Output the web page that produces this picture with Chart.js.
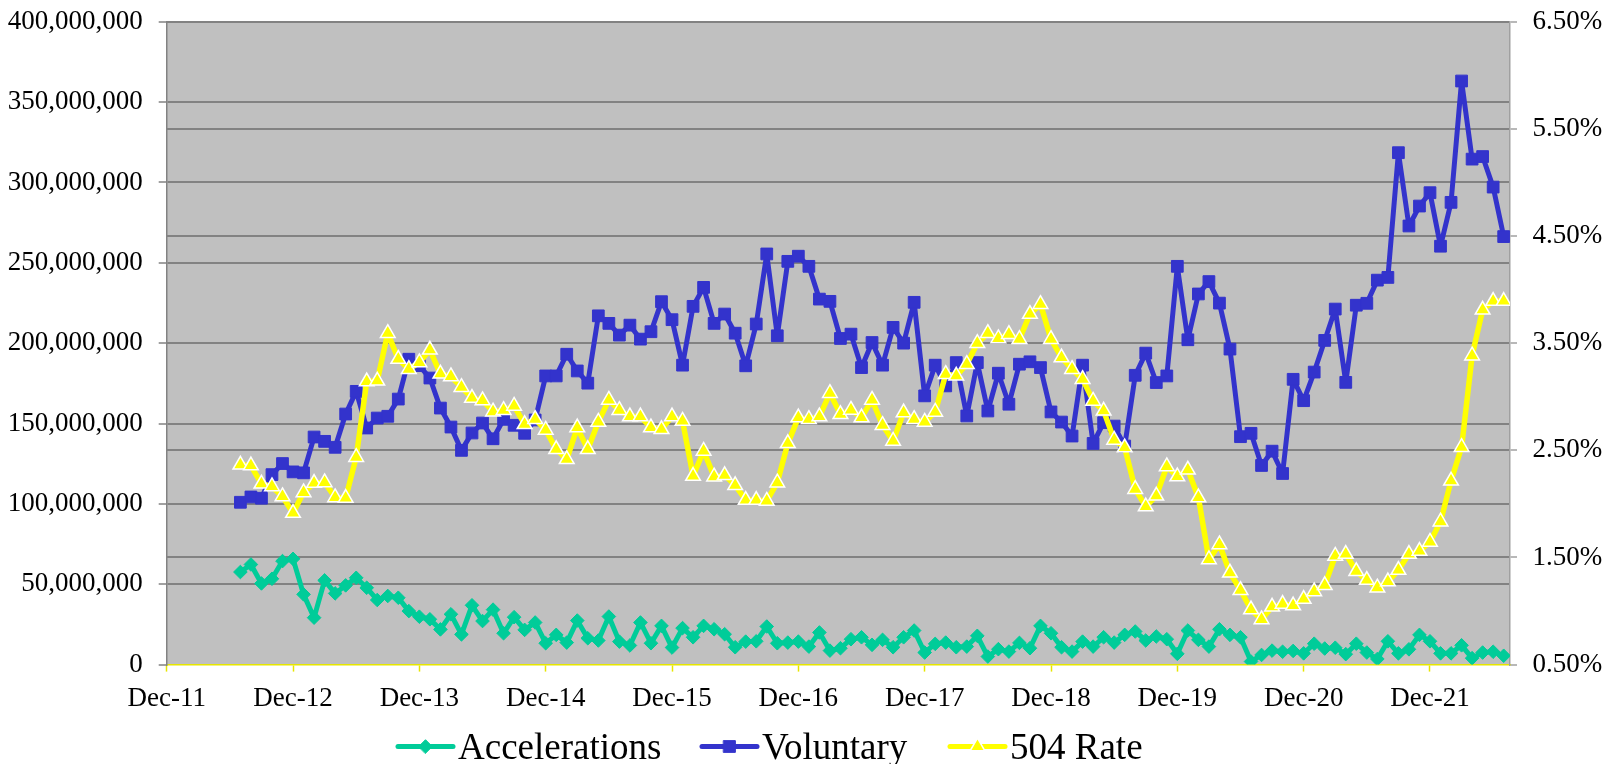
<!DOCTYPE html>
<html>
<head>
<meta charset="utf-8">
<script src="https://cdn.jsdelivr.net/npm/chart.js@4/dist/chart.umd.min.js"></script>
<style>
  html, body { margin: 0; padding: 0; background: #ffffff; }
  canvas { display: block; }
</style>
</head>
<body>
<canvas id="chart" width="1602" height="764"></canvas>
<script>
// ---- Data (monthly, Jul-12 .. Jul-22); x = months after Dec-11 ----
const firstMonthIndex = 7;            // Jul-12 is 7 months after Dec-11
const tickMonths = [0, 12, 24, 36, 48, 60, 72, 84, 96, 108, 120];
const tickLabels = ['Dec-11', 'Dec-12', 'Dec-13', 'Dec-14', 'Dec-15', 'Dec-16', 'Dec-17', 'Dec-18', 'Dec-19', 'Dec-20', 'Dec-21'];
const seriesNames = ['Accelerations', 'Voluntary', '504 Rate'];

// Accelerations, millions
const accelerations = [
  57.6, 62.3, 50.5, 53.4, 64.4, 65.8, 43.7, 29.2, 52.4, 44.3, 49.3, 54.0, 47.8, 40.2, 42.7, 41.6, 33.3, 29.8, 28.2, 21.9, 31.3, 18.8, 36.9, 27.1, 34.2,
  19.5, 29.5, 21.6, 26.2, 13.3, 18.5, 13.7, 27.4, 16.4, 15.0, 29.9, 14.3, 11.9, 26.2, 13.3, 24.1, 10.6, 22.7, 17.0, 24.1, 22.0, 18.9, 10.8, 14.3, 14.5,
  23.7, 13.3, 13.7, 14.3, 11.2, 20.0, 8.7, 10.2, 15.8, 17.0, 12.3, 15.4, 10.8, 17.0, 21.2, 7.5, 12.9, 13.7, 10.8, 11.2, 17.9, 5.0, 9.6, 8.1, 13.5,
  10.2, 24.1, 19.5, 10.8, 8.1, 14.3, 11.2, 17.0, 13.7, 18.5, 20.6, 15.0, 17.5, 15.8, 6.7, 21.2, 15.4, 11.2, 22.0, 18.5, 17.0, 1.9, 6.0, 8.7, 8.0,
  8.5, 7.0, 13.0, 10.0, 10.5, 6.5, 13.0, 7.5, 3.5, 14.5, 7.0, 9.5, 18.5, 14.5, 7.0, 7.0, 12.0, 4.0, 7.5, 8.0, 5.5
];

// Voluntary, millions
const voluntary = [
  101.0, 104.3, 103.5, 118.2, 125.1, 119.9, 119.3, 141.6, 138.9, 135.2, 155.9, 170.0, 147.2, 153.4, 154.5, 165.2, 190.0, 186.0, 178.3, 159.6, 147.8, 133.3, 144.1, 150.3, 140.5,
  152.6, 148.9, 143.9, 152.2, 179.6, 179.6, 193.1, 182.7, 175.1, 217.0, 212.3, 205.0, 211.2, 202.5, 207.1, 225.8, 214.6, 186.3, 222.9, 234.7, 212.3, 218.1, 206.2, 185.9, 211.9,
  255.5, 204.6, 250.9, 254.1, 247.8, 227.4, 226.0, 202.9, 205.6, 184.8, 200.4, 186.3, 209.8, 200.0, 225.4, 167.2, 186.3, 173.4, 187.9, 154.7, 187.9, 157.8, 181.3, 162.0, 186.9,
  188.4, 184.8, 157.2, 150.9, 142.2, 186.3, 137.6, 150.5, 148.4, 136.0, 180.0, 193.8, 175.5, 179.6, 247.8, 202.1, 230.6, 238.3, 224.9, 196.3, 141.8, 143.9, 123.9, 132.8, 118.9,
  177.5, 164.2, 182.0, 201.7, 221.2, 175.6, 223.6, 224.8, 239.2, 240.9, 318.5, 272.9, 285.3, 293.6, 260.3, 287.6, 363.1, 314.5, 316.1, 297.1, 266.3
];

// 504 Rate, percent
const rate504 = [
  2.365, 2.358, 2.187, 2.163, 2.069, 1.914, 2.107, 2.194, 2.200, 2.060, 2.054, 2.436, 3.142, 3.149, 3.593, 3.351, 3.257, 3.320, 3.438, 3.214, 3.189, 3.089, 2.987, 2.965, 2.860,
  2.874, 2.914, 2.743, 2.790, 2.690, 2.509, 2.416, 2.712, 2.509, 2.765, 2.970, 2.874, 2.815, 2.815, 2.712, 2.696, 2.815, 2.774, 2.260, 2.494, 2.254, 2.266, 2.173, 2.036, 2.036,
  2.027, 2.198, 2.565, 2.805, 2.790, 2.815, 3.033, 2.836, 2.877, 2.805, 2.970, 2.734, 2.587, 2.852, 2.790, 2.765, 2.858, 3.210, 3.195, 3.304, 3.500, 3.593, 3.544, 3.584, 3.537,
  3.771, 3.864, 3.537, 3.366, 3.257, 3.164, 2.961, 2.868, 2.597, 2.526, 2.137, 1.975, 2.075, 2.349, 2.255, 2.318, 2.059, 1.481, 1.621, 1.357, 1.195, 1.014, 0.921, 1.039, 1.065,
  1.051, 1.112, 1.183, 1.240, 1.514, 1.532, 1.371, 1.289, 1.218, 1.275, 1.382, 1.532, 1.560, 1.645, 1.834, 2.215, 2.529, 3.383, 3.811, 3.893, 3.893
];

// ---- Chart ----
const toPoints = arr => arr.map((v, i) => ({ x: firstMonthIndex + i, y: v }));
const FONT = '"Liberation Serif", "Times New Roman", serif';
const GRID = '#828282';

const plotBackground = {
  id: 'plotBackground',
  beforeDraw(chart) {
    const { ctx, chartArea: a } = chart;
    ctx.save();
    ctx.fillStyle = '#C0C0C0';
    ctx.fillRect(a.left, a.top, a.right - a.left, a.bottom - a.top);
    ctx.restore();
  }
};

function drawMarker(ctx, style, x, y, r, fill, stroke, bw) {
  ctx.beginPath();
  if (style === 'rectRot') {
    ctx.moveTo(x - r, y); ctx.lineTo(x, y - r); ctx.lineTo(x + r, y); ctx.lineTo(x, y + r);
  } else if (style === 'rect') {
    const s = r * Math.SQRT1_2;
    ctx.rect(x - s, y - s, 2 * s, 2 * s);
  } else {
    for (let k = 0; k < 3; k++) {
      const ang = k * 2 * Math.PI / 3;
      const px = x + Math.sin(ang) * r, py = y - Math.cos(ang) * r;
      if (k === 0) ctx.moveTo(px, py); else ctx.lineTo(px, py);
    }
  }
  ctx.closePath();
  ctx.fillStyle = fill; ctx.fill();
  ctx.lineWidth = bw; ctx.strokeStyle = stroke; ctx.stroke();
}

const bottomLegend = {
  id: 'bottomLegend',
  afterDraw(chart) {
    const ctx = chart.ctx;
    const starts = [398, 702, 950];
    const y = 746.5;
    ctx.save();
    ctx.font = '37px ' + FONT;
    ctx.textBaseline = 'alphabetic';
    ctx.textAlign = 'left';
    chart.data.datasets.forEach((ds, i) => {
      const x = starts[i];
      ctx.beginPath();
      ctx.moveTo(x, y); ctx.lineTo(x + 55, y);
      ctx.lineWidth = 5; ctx.strokeStyle = ds.borderColor; ctx.lineCap = 'round';
      ctx.stroke();
      drawMarker(ctx, ds.pointStyle, x + 27.5, y, ds.pointRadius, ds.pointBackgroundColor, ds.pointBorderColor, ds.pointBorderWidth);
      ctx.fillStyle = '#000000';
      ctx.fillText(ds.label, x + 60, 759);
    });
    ctx.restore();
  }
};

const noScalePadding = s => { s.paddingTop = 0; s.paddingBottom = 0; s.paddingLeft = 0; s.paddingRight = 0; };

new Chart(document.getElementById('chart'), {
  type: 'line',
  data: {
    datasets: [
      {
        label: seriesNames[0], data: toPoints(accelerations), yAxisID: 'y',
        borderColor: '#00CC99', backgroundColor: '#00CC99', borderWidth: 5,
        pointStyle: 'rectRot', pointRadius: 6.8, pointBackgroundColor: '#00CC99',
        pointBorderColor: '#00CC99', pointBorderWidth: 1, order: 3
      },
      {
        label: seriesNames[1], data: toPoints(voluntary), yAxisID: 'y',
        borderColor: '#3333CC', backgroundColor: '#3333CC', borderWidth: 5,
        pointStyle: 'rect', pointRadius: 8.3, pointBackgroundColor: '#3333CC',
        pointBorderColor: '#3333CC', pointBorderWidth: 1, order: 2
      },
      {
        label: seriesNames[2], data: toPoints(rate504), yAxisID: 'y1',
        borderColor: '#FFFF00', backgroundColor: '#FFFF00', borderWidth: 5.5,
        pointStyle: 'triangle', pointRadius: 8.5, pointBackgroundColor: '#FFFF00',
        pointBorderColor: '#FFFFFF', pointBorderWidth: 1.5, order: 1
      }
    ]
  },
  options: {
    responsive: false,
    animation: false,
    devicePixelRatio: 1,
    layout: { padding: { top: 21.7, left: 0, right: 0, bottom: 0 } },
    elements: { line: { tension: 0, borderJoinStyle: 'round', borderCapStyle: 'round' } },
    plugins: { legend: { display: false }, tooltip: { enabled: false } },
    scales: {
      x: {
        type: 'linear', position: 'bottom', min: 0, max: 127.6,
        afterBuildTicks: s => { s.ticks = tickMonths.map(v => ({ value: v })); },
        afterFit: s => { s.height = 99.4; noScalePadding(s); },
        ticks: {
          callback: v => tickLabels[tickMonths.indexOf(v)] ?? '',
          font: { family: FONT, size: 27 }, color: '#000000',
          padding: 11, maxRotation: 0, autoSkip: false
        },
        grid: { drawOnChartArea: false, drawTicks: true, tickLength: 7, tickColor: '#E6E600', tickWidth: 1.5 },
        border: { color: '#E6E600', width: 1.5 }
      },
      y: {
        position: 'left', min: 0, max: 400,
        afterFit: s => { s.width = 166.7; noScalePadding(s); },
        ticks: {
          stepSize: 50,
          callback: v => (v * 1000000).toLocaleString('en-US'),
          font: { family: FONT, size: 27 }, color: '#000000', padding: 16
        },
        grid: {
          color: c => (c.tick && c.tick.value === 0) ? 'rgba(0,0,0,0)' : GRID,
          lineWidth: 2, tickLength: 8, tickColor: GRID, tickWidth: 1.5
        },
        border: { color: GRID, width: 1.5 }
      },
      y1: {
        position: 'right', min: 0.5, max: 6.5,
        afterFit: s => { s.width = 92; noScalePadding(s); },
        ticks: {
          stepSize: 1,
          callback: v => v.toFixed(2) + '%',
          font: { family: FONT, size: 27 }, color: '#000000', padding: 15.5
        },
        grid: {
          color: c => (c.tick && Math.abs(c.tick.value - 0.5) < 1e-9) ? 'rgba(0,0,0,0)' : GRID,
          lineWidth: 2, tickLength: 7, tickColor: '#A0A0A0', tickWidth: 1.5
        },
        border: { color: '#A0A0A0', width: 1.5 }
      }
    }
  },
  plugins: [plotBackground, bottomLegend]
});
</script>
</body>
</html>
